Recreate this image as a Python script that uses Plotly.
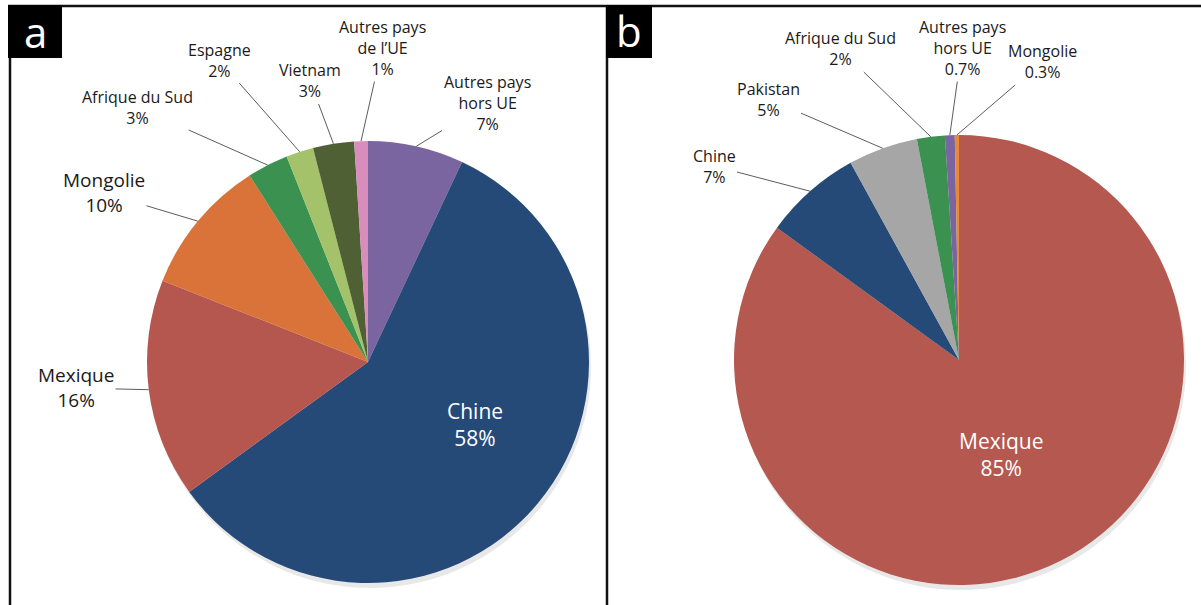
import math
import plotly.graph_objects as go

# ---------------- data ----------------
a_categories = ["Autres pays<br>hors UE", "Chine", "Mexique", "Mongolie",
                "Afrique du Sud", "Espagne", "Vietnam", "Autres pays<br>de l’UE"]
a_values = [7, 58, 16, 10, 3, 2, 3, 1]
a_colors = ["#7b65a0", "#264a78", "#b5574f", "#d9733a",
            "#3a9150", "#a4c26a", "#4f6034", "#d98dbd"]

b_categories = ["Mexique", "Chine", "Pakistan", "Afrique du Sud",
                "Autres pays<br>hors UE", "Mongolie"]
b_values = [85, 7, 5, 2, 0.7, 0.3]
b_colors = ["#b5584f", "#264a78", "#a6a6a6", "#3a9150", "#7b65a0", "#e8883a"]

# ---------------- layout (pixels) ----------------
W, H = 1201, 605
A_CX, A_CY, A_R = 368, 362, 221
B_CX, B_CY, B_R = 959, 360, 225

# label text centres (pixels), one per slice
a_label_pos = [(487, 103), (475, 424), (76, 388), (104, 193),
               (137, 107), (219, 60), (310, 81), (382, 48)]
a_label_size = [16, 21, 19, 19, 16, 16, 16, 16]
a_inside = [False, True, False, False, False, False, False, False]

b_label_pos = [(1001, 454), (714, 166), (768, 99), (840, 49), (962, 48), (1042, 62)]
b_label_size = [21, 16, 16, 16, 16, 16]
b_inside = [True, False, False, False, False, False]

FONT = "Open Sans"


def px2paper(x, y):
    return x / W, 1 - y / H


def domain(cx, cy, r):
    x0, y1 = px2paper(cx - r, cy - r)
    x1, y0 = px2paper(cx + r, cy + r)
    return dict(x=[x0, x1], y=[y0, y1])


def pct(v):
    return f"{v:g}%"


fig = go.Figure()
annotations = []
shapes = []


def add_pie(cats, vals, cols, cx, cy, r, pos, sizes, inside):
    fig.add_trace(go.Pie(
        labels=[c.replace("<br>", " ") for c in cats], values=vals,
        marker=dict(colors=cols, line=dict(width=0)),
        sort=False, direction="clockwise", rotation=0,
        textinfo="none", hoverinfo="label+percent",
        domain=domain(cx, cy, r), showlegend=False,
    ))
    # subtle shadow
    shapes.append(dict(type="circle", xref="paper", yref="paper", layer="below",
                       x0=(cx - r + 2) / W, x1=(cx + r + 2) / W,
                       y0=1 - (cy + r + 5) / H, y1=1 - (cy - r + 5) / H,
                       fillcolor="rgba(0,0,0,0.09)", line=dict(width=0)))
    total = sum(vals)
    cum = 0
    for cat, v, (lx, ly), fs, ins in zip(cats, vals, pos, sizes, inside):
        mid = (cum + v / 2) / total * 2 * math.pi
        cum += v
        text = f"{cat}<br>{pct(v)}"
        if ins:
            x, y = px2paper(lx, ly)
            annotations.append(dict(x=x, y=y, xref="paper", yref="paper",
                                    xanchor="center", yanchor="middle",
                                    text=text, showarrow=False,
                                    font=dict(family=FONT, size=fs, color="white")))
        else:
            hx = cx + r * math.sin(mid)
            hy = cy - r * math.cos(mid)
            x, y = px2paper(hx, hy)
            annotations.append(dict(x=x, y=y, xref="paper", yref="paper",
                                    ax=lx - hx, ay=ly - hy, axref="pixel", ayref="pixel",
                                    text=text, showarrow=True, arrowhead=0,
                                    arrowwidth=0.9, arrowcolor="#4a4a4a", standoff=0,
                                    font=dict(family=FONT, size=fs, color="#1a1a1a")))


add_pie(a_categories, a_values, a_colors, A_CX, A_CY, A_R,
        a_label_pos, a_label_size, a_inside)
add_pie(b_categories, b_values, b_colors, B_CX, B_CY, B_R,
        b_label_pos, b_label_size, b_inside)

# frame lines
LINE = dict(color="#111111", width=2.5)
shapes.append(dict(type="line", xref="paper", yref="paper",
                   x0=8 / W, x1=1, y0=1 - 6 / H, y1=1 - 6 / H, line=LINE))
shapes.append(dict(type="line", xref="paper", yref="paper",
                   x0=10 / W, x1=10 / W, y0=0, y1=1 - 6 / H, line=LINE))
shapes.append(dict(type="line", xref="paper", yref="paper",
                   x0=607 / W, x1=607 / W, y0=0, y1=1 - 6 / H, line=LINE))
# panel letter boxes
for (x0, x1, letter, cyl) in [(8, 62, "a", 31), (606, 652, "b", 30)]:
    shapes.append(dict(type="rect", xref="paper", yref="paper",
                       x0=x0 / W, x1=x1 / W, y0=1 - 58 / H, y1=1 - 5 / H,
                       fillcolor="black", line=dict(width=0)))
    annotations.append(dict(x=(x0 + x1) / 2 / W, y=1 - cyl / H, xref="paper", yref="paper",
                            xanchor="center", yanchor="middle",
                            text=letter, showarrow=False,
                            font=dict(family=FONT, size=42, color="white")))

fig.update_layout(
    width=W, height=H,
    margin=dict(l=0, r=0, t=0, b=0),
    paper_bgcolor="white", plot_bgcolor="white",
    shapes=shapes, annotations=annotations,
    font=dict(family=FONT),
)

fig.write_html("out.html", config={"displayModeBar": False},
               post_script="document.body.style.margin='0';")
